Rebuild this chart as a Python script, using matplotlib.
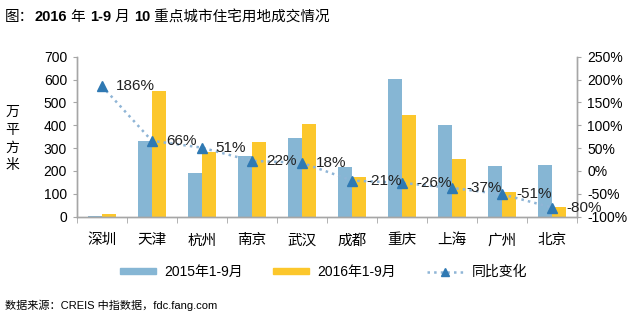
import matplotlib.pyplot as plt
import numpy as np
from matplotlib.lines import Line2D
from matplotlib.patches import Patch

plt.rcParams['font.family'] = ['Liberation Sans', 'Noto Sans CJK SC', 'DejaVu Sans']

cities = ['深圳', '天津', '杭州', '南京', '武汉', '成都', '重庆', '上海', '广州', '北京']
area_2015 = [3, 330, 190, 267, 343, 216, 601, 401, 223, 226]
area_2016 = [13, 548, 285, 325, 405, 175, 445, 252, 107, 44]
yoy = [186, 66, 51, 22, 18, -21, -26, -37, -51, -80]

blue = '#86b6d4'
yellow = '#fcc72c'
tri_color = '#2f79b3'
dot_color = '#8fb5d6'
grey = '#a6a6a6'

fig = plt.figure(figsize=(6.4, 3.22), dpi=100)
ax = fig.add_axes([0.120, 0.327, 0.782, 0.497])
ax2 = ax.twinx()

x = np.arange(len(cities))
w = 0.28
ax.bar(x - w / 2, area_2015, w, color=blue, zorder=2)
ax.bar(x + w / 2, area_2016, w, color=yellow, zorder=2)

ax.set_xlim(-0.5, len(cities) - 0.5)
ax.set_ylim(0, 700)
ax.set_yticks(range(0, 701, 100))
ax.set_xticks(x)
ax.set_xticklabels(cities, fontsize=10.5)
ax.set_xticks(np.arange(-0.5, len(cities)), minor=True)
ax.tick_params(axis='x', which='major', length=0, pad=12)
ax.tick_params(axis='x', which='minor', length=4, color=grey)
ax.tick_params(axis='y', length=3, color=grey, labelsize=10, pad=4)

# year-on-year change on the right axis
ax2.plot(x, yoy, linestyle=':', color=dot_color, linewidth=1.8, zorder=3)
ax2.plot(x, yoy, linestyle='none', marker='^', markersize=7, color=tri_color, zorder=4)
for xi, v in zip(x, yoy):
    ax2.annotate(f'{v}%', (xi, v), xytext=(10, 0), textcoords='offset points',
                 ha='left', va='center', fontsize=11, color='#222222', zorder=5)
ax2.set_ylim(-100, 250)
ax2.set_yticks(range(-100, 251, 50))
ax2.set_yticklabels([f'{t}%' for t in range(-100, 251, 50)])
ax2.tick_params(axis='y', length=3, color=grey, labelsize=10, pad=4)

for a in (ax, ax2):
    a.spines['top'].set_visible(False)
    for s in ('left', 'right', 'bottom'):
        a.spines[s].set_color(grey)
        a.spines[s].set_linewidth(1)

# vertical unit label
fig.text(0.019, 0.57, '万\n平\n方\n米', fontsize=10, ha='center', va='center',
         linespacing=1.35)

# title, numbers in bold, pieces chained left to right
parts = [('图：', 'normal'), ('2016', 'bold'), (' 年 ', 'normal'), ('1-9', 'bold'),
         (' 月 ', 'normal'), ('10', 'bold'), (' 重点城市住宅用地成交情况', 'normal')]
prev = fig.text(0.008, 0.925, parts[0][0], fontsize=10.5, fontweight=parts[0][1],
                va='bottom', ha='left')
for txt, wt in parts[1:]:
    prev = ax.annotate(txt, xy=(1, 0), xycoords=prev, fontsize=10.5, fontweight=wt,
                       va='bottom', ha='left', annotation_clip=False)

handles = [Patch(color=blue), Patch(color=yellow),
           Line2D([], [], linestyle=':', color=dot_color, linewidth=1.8,
                  marker='^', markersize=6, markerfacecolor=tri_color,
                  markeredgecolor=tri_color)]
fig.legend(handles, ['2015年1-9月', '2016年1-9月', '同比变化'], loc='center',
           bbox_to_anchor=(0.505, 0.155), ncol=3, frameon=False, fontsize=10,
           handlelength=2.6, handleheight=0.3, columnspacing=2.2, handletextpad=0.6)

fig.text(0.008, 0.052, '数据来源：CREIS 中指数据，fdc.fang.com', fontsize=8,
         ha='left', va='center')

fig.savefig('out.png', dpi=100)
